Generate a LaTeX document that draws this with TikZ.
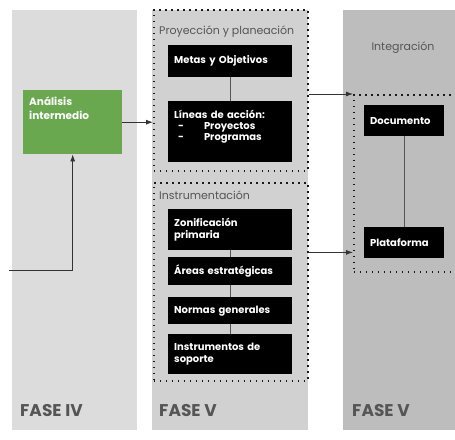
\documentclass[tikz,border=0pt]{standalone}
\usepackage{fontspec}
\setmainfont{Poppins}
\usetikzlibrary{arrows.meta}
\definecolor{faseiv}{HTML}{DCDCDC}
\definecolor{fasev}{HTML}{D1D1D1}
\definecolor{integra}{HTML}{BDBDBD}
\definecolor{verde}{HTML}{6AA84F}
\definecolor{texto}{HTML}{555555}

\begin{document}
\begin{tikzpicture}[x=1pt,y=-1pt,
  bbox/.style={fill=black, text=white, anchor=north west, minimum width=124pt, text width=112pt,
    inner xsep=6pt, align=left, font=\bfseries\fontsize{10}{12.5}\selectfont},
  punteado/.style={draw=black!90, line width=1.5pt, dash pattern=on 1.5pt off 4.5pt, anchor=north west, inner sep=0pt},
  titulo/.style={text=texto, font=\fontsize{11}{13}\selectfont, inner sep=0pt},
  fase/.style={text=texto, font=\bfseries\fontsize{17}{20}\selectfont, anchor=west, inner sep=0pt},
  enlace/.style={draw=texto, line width=0.8pt},
  flecha/.style={draw=black!80, line width=0.8pt, -{Latex[length=7pt,width=5pt]}}]
\useasboundingbox (0,0) rectangle (455,439);
\fill[faseiv] (12,10) rectangle (137,430);
\fill[fasev] (152,10) rectangle (308,430);
\fill[integra] (343,10) rectangle (455,430);
% FASE IV
\node [fill=verde, text=white, anchor=north west, minimum width=99pt, text width=87pt, inner xsep=6pt, inner ysep=6pt,
  align=left, text height=9pt, text depth=43pt, font=\bfseries\fontsize{10.5}{14}\selectfont] (analisis) at (23,90) {Análisis\\intermedio};
\coordinate (entrada) at (9,270);
\node [fase] (faseiv) at (20,411) {FASE IV};
% FASE V
\node [punteado, minimum width=154pt, minimum height=161pt] (proy) at (153,9) {};
\node [punteado, minimum width=154pt, minimum height=198pt] (instr) at (153,182) {};
\node [titulo, anchor=west] (tproy) at (159,32) {Proyección y planeación};
\node [bbox, minimum height=32pt] (metas) at (168,45) {Metas y Objetivos};
\node [bbox, inner ysep=6pt, text height=11pt, text depth=38pt, font=\bfseries\fontsize{10}{11}\selectfont] (lineas) at (168,101)
  {Líneas de acción:\\\hspace*{4pt}-\hspace{20pt}Proyectos\\\hspace*{4pt}-\hspace{20pt}Programas};
\node [titulo, anchor=west] (tinstr) at (159,195) {Instrumentación};
\node [bbox, minimum height=41pt] (zonif) at (168,209) {Zonificación\\primaria};
\node [bbox, minimum height=28pt] (areas) at (168,257) {Áreas estratégicas};
\node [bbox, minimum height=27pt] (normas) at (168,297) {Normas generales};
\node [bbox, minimum height=40pt] (soporte) at (168,334) {Instrumentos de\\soporte};
\node [fase] (fasev) at (159,411) {FASE V};
% Integracion
\node [titulo] (tinteg) at (403,48) {Integración};
\node [punteado, minimum width=110pt, minimum height=177pt] (integ) at (353,94) {};
\node [bbox, minimum width=80pt, text width=68pt, minimum height=31pt] (documento) at (364,105) {Documento};
\node [bbox, minimum width=80pt, text width=68pt, minimum height=31pt] (plataforma) at (364,227) {Plataforma};
\node [fase] (fasevi) at (352,411) {FASE V};

\draw[flecha] (entrada) -| (analisis.south);
\draw[flecha] (analisis.east) -- (analisis.east -| proy.west);
\draw[enlace] (metas) -- (lineas);
\draw[enlace] (zonif) -- (areas);
\draw[enlace] (areas) -- (normas);
\draw[enlace] (normas) -- (soporte);
\draw[enlace] (documento) -- (plataforma);
\draw[flecha] (proy.east |- integ.north west) -- (integ.north west);
\draw[flecha] ([yshift=6pt]plataforma.south -| instr.east) -- ([yshift=6pt]plataforma.south -| integ.west);
\end{tikzpicture}
\end{document}
